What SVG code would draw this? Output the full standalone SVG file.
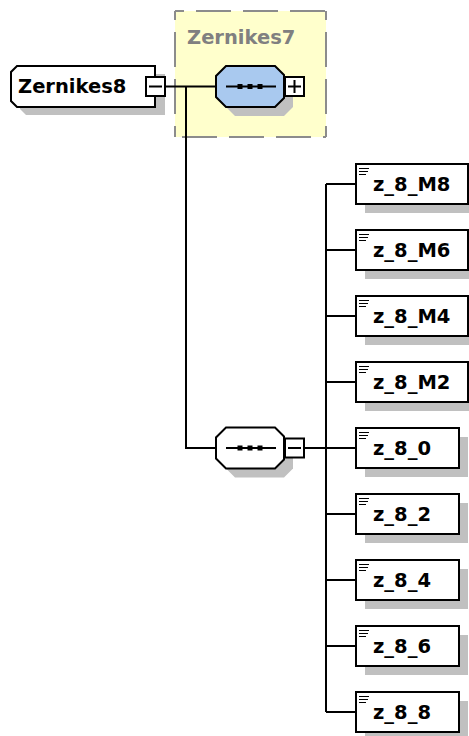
<svg xmlns="http://www.w3.org/2000/svg" width="469" height="736" viewBox="0 0 469 736">
<style>
.ln{fill:none;stroke:#000;stroke-width:2}
.bx{fill:#fff;stroke:#000;stroke-width:2}
.sh{fill:#c0c0c0;stroke:none}
.t{font-family:"DejaVu Sans",Verdana,sans-serif;font-weight:bold;font-size:19.5px;fill:#000}
.ic{stroke:#000;stroke-width:1}
.dash{fill:none;stroke:#8c8c8c;stroke-width:2;stroke-dasharray:35 12;stroke-dashoffset:26}
</style>
<defs>
<g id="dots"><path d="M-24 0H26" class="ln"/><rect x="-12.5" y="-2.5" width="5" height="5"/><rect x="-2.5" y="-2.5" width="5" height="5"/><rect x="7.5" y="-2.5" width="5" height="5"/></g>
<g id="icon"><path class="ic" d="M359 0.5H369M359 3.5H368M359 6.5H366"/></g>
</defs>
<rect width="469" height="736" fill="#fff"/>
<g id="Zernikes7">
<rect x="175" y="11" width="151" height="126" fill="#ffffcc"/>
<path class="dash" d="M175 11H326"/>
<path class="dash" d="M326 11V137"/>
<path class="dash" d="M326 137H175" style="stroke-dashoffset:32"/>
<path class="dash" d="M175 11V137"/>
<text x="187" y="43.5" class="t" fill="#808080" style="fill:#808080">Zernikes7</text>
</g>
<g id="connectors">
<path class="ln" d="M166 86.5H216M186 86.5V448H216M305 448H355M326 184V712"/>
<path class="ln" d="M326 184H355M326 250H355M326 316H355M326 382H355M326 514H355M326 580H355M326 646H355M326 712H355"/>
</g>
<g id="Zernikes8">
<polygon class="sh" points="26,74 165,74 165,115 26,115 20,109 20,80"/>
<polygon class="bx" points="17,66 155,66 155,107 17,107 11,101 11,72"/>
<text x="18" y="93" class="t">Zernikes8</text>
<rect class="bx" x="146" y="77" width="19" height="19"/>
<path class="ln" d="M149 86.5H162"/>
</g>
<g id="seq1">
<polygon class="sh" points="235,75 284,75 293,84 293,107 284,116 235,116 225,106 225,85"/>
<polygon points="226,66 275,66 284,75 284,98 275,107 226,107 216,97 216,76" fill="#a9c9ef" stroke="#000" stroke-width="2"/>
<use href="#dots" x="250" y="86.5"/>
<rect class="bx" x="285" y="77" width="19" height="19"/>
<path class="ln" d="M288 86.5H301M294.5 80V93"/>
</g>
<g id="seq2">
<polygon class="sh" points="235,436.5 284,436.5 293,445.5 293,468.5 284,477.5 235,477.5 225,467.5 225,446.5"/>
<polygon class="bx" points="226,427.5 275,427.5 284,436.5 284,459.5 275,468.5 226,468.5 216,458.5 216,437.5"/>
<use href="#dots" x="250" y="448"/>
<rect class="bx" x="285" y="438.5" width="19" height="19"/>
<path class="ln" d="M288 448H301"/>
</g>
<g id="z_8_M8"><rect class="sh" x="365" y="173" width="112" height="40"/><rect class="bx" x="356" y="164" width="112" height="40"/><use href="#icon" y="168"/><text x="373" y="191" class="t">z_8_M8</text></g>
<g id="z_8_M6"><rect class="sh" x="365" y="239" width="112" height="40"/><rect class="bx" x="356" y="230" width="112" height="40"/><use href="#icon" y="234"/><text x="373" y="257" class="t">z_8_M6</text></g>
<g id="z_8_M4"><rect class="sh" x="365" y="305" width="112" height="40"/><rect class="bx" x="356" y="296" width="112" height="40"/><use href="#icon" y="300"/><text x="373" y="323" class="t">z_8_M4</text></g>
<g id="z_8_M2"><rect class="sh" x="365" y="371" width="112" height="40"/><rect class="bx" x="356" y="362" width="112" height="40"/><use href="#icon" y="366"/><text x="373" y="389" class="t">z_8_M2</text></g>
<g id="z_8_0"><rect class="sh" x="365" y="437" width="103" height="40"/><rect class="bx" x="356" y="428" width="103" height="40"/><use href="#icon" y="432"/><text x="373" y="455" class="t">z_8_0</text></g>
<g id="z_8_2"><rect class="sh" x="365" y="503" width="103" height="40"/><rect class="bx" x="356" y="494" width="103" height="40"/><use href="#icon" y="498"/><text x="373" y="521" class="t">z_8_2</text></g>
<g id="z_8_4"><rect class="sh" x="365" y="569" width="103" height="40"/><rect class="bx" x="356" y="560" width="103" height="40"/><use href="#icon" y="564"/><text x="373" y="587" class="t">z_8_4</text></g>
<g id="z_8_6"><rect class="sh" x="365" y="635" width="103" height="40"/><rect class="bx" x="356" y="626" width="103" height="40"/><use href="#icon" y="630"/><text x="373" y="653" class="t">z_8_6</text></g>
<g id="z_8_8"><rect class="sh" x="365" y="701" width="103" height="40"/><rect class="bx" x="356" y="692" width="103" height="40"/><use href="#icon" y="696"/><text x="373" y="719" class="t">z_8_8</text></g>
</svg>
